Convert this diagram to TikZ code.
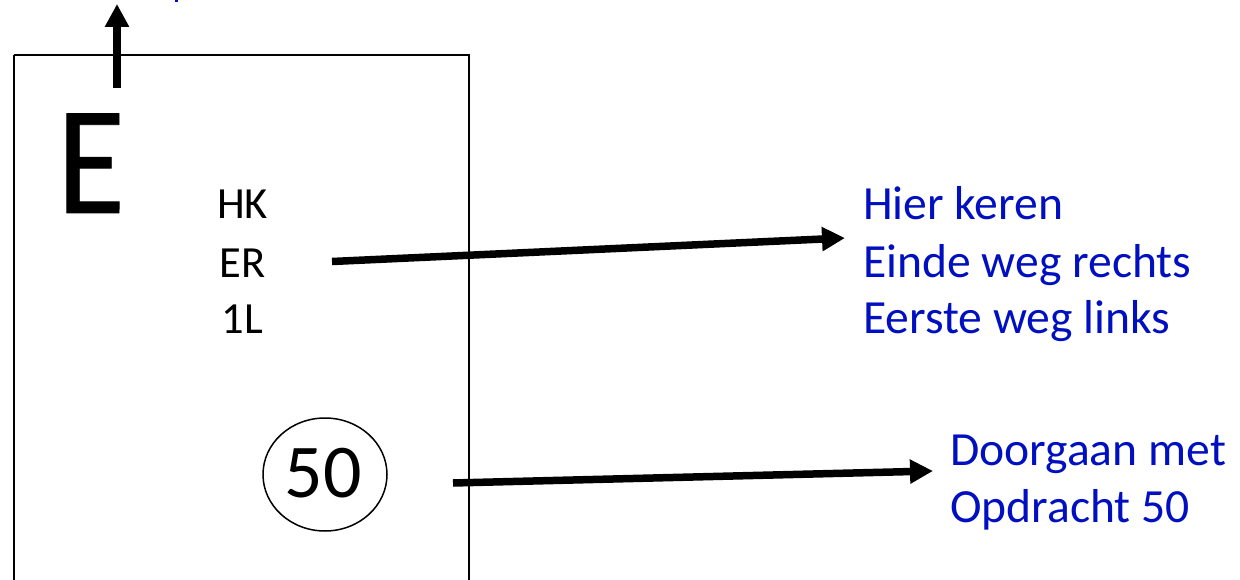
\documentclass[tikz,border=0pt]{standalone}
\usepackage{fontspec}
\setmainfont{Carlito}
\newfontfamily\heavyfont[FakeBold=0.5]{Carlito}
\usetikzlibrary{arrows.meta,shapes.geometric}
\definecolor{noteblue}{RGB}{0,16,192}
\tikzset{
  frame/.style={draw=black, line width=1.5pt},
  code/.style={inner sep=0pt, font=\fontsize{44.5}{57}\selectfont, align=center, anchor=base},
  note/.style={inner sep=0pt, font=\fontsize{47.6}{57}\selectfont, text=noteblue, align=left, anchor=base west},
  fat/.style={line width=7.5pt, -{Triangle[length=23pt,width=23pt]}},
}
\begin{document}
\begin{tikzpicture}[x=1pt,y=-1pt]
\useasboundingbox (0,0) rectangle (1240,580);
\fill[white] (0,0) rectangle (1240,580);
% cut-off blue fragment at top edge
\fill[noteblue] (175,0) rectangle (178,2.5);
% card
\draw[frame] (14,55) -- (469,55) -- (469,600) (14,55) -- (14,600);
% big E
\node[inner sep=0pt, anchor=base, font=\heavyfont\fontsize{155}{160}\selectfont, xscale=0.9, transform shape] (bigE) at (91,213) {E};
% up arrow
\coordinate (upS) at (117,88);
\coordinate (upE) at (117,4);
\draw[fat] (upS) -- (upE);
% codes
\node[code] (hk) at (242.5,219) {HK};
\node[code] (er) at (242.5,277) {ER};
\node[code] (l1) at (242.5,333) {1L};
% circled 50
\node[draw, line width=1.5pt, ellipse, minimum width=124pt, minimum height=113pt, inner sep=0pt] (circ) at (325,474.5) {};
\node[inner sep=0pt, anchor=base, font=\fontsize{76}{80}\selectfont] (fifty) at (323,497) {50};
% notes
\node[note] (n1a) at (863,220) {Hier keren};
\node[note] (n1b) at (863,277) {Einde weg rechts};
\node[note] (n1c) at (863,333) {Eerste weg links};
\node[note] (n2a) at (950,465) {Doorgaan met};
\node[note] (n2b) at (950,522) {Opdracht 50};
% arrows
\coordinate (a1s) at (332,261.5);
\coordinate (a1e) at (845,238);
\coordinate (a2s) at (453,483);
\coordinate (a2e) at (933,471);
\draw[fat] (a1s) -- (a1e);
\draw[fat] (a2s) -- (a2e);
\end{tikzpicture}
\end{document}
